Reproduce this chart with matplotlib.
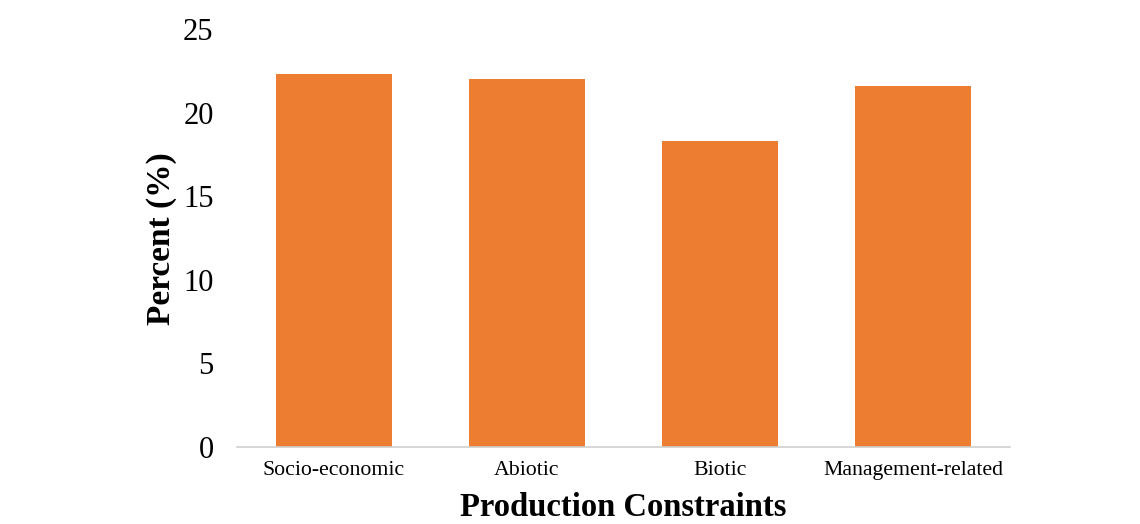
import matplotlib.pyplot as plt

## data
categories = ['Socio-economic', 'Abiotic', 'Biotic', 'Management-related']
percent = [22.3, 22.0, 18.3, 21.6]
yticks = [0, 5, 10, 15, 20, 25]

plt.rcParams['font.family'] = ['Liberation Serif', 'DejaVu Serif']

fig = plt.figure(figsize=(11.4, 5.24), dpi=100, facecolor='#FFFFFF')
ax = fig.add_axes([0.208, 0.147, 0.678, 0.797])

x = range(len(categories))
ax.bar(x, percent, width=0.6, color='#ED7D31', zorder=2)

ax.set_xlim(-0.5, len(categories) - 0.5)
ax.set_ylim(0, 25)
ax.set_yticks(yticks)
ax.set_xticks(list(x))
ax.set_xticklabels(categories, fontsize=15.7)
ax.tick_params(axis='y', labelsize=22, length=0, pad=17)
ax.tick_params(axis='x', length=0, pad=10)

for side in ['top', 'right', 'left']:
    ax.spines[side].set_visible(False)
ax.spines['bottom'].set_color('#D0D0D0')
ax.spines['bottom'].set_linewidth(1.2)

ax.set_xlabel('Production Constraints', fontsize=23.5, fontweight='bold', labelpad=9)
ax.set_ylabel('Percent (%)', fontsize=24, fontweight='bold', labelpad=4)

fig.savefig('out.png', dpi=100)
